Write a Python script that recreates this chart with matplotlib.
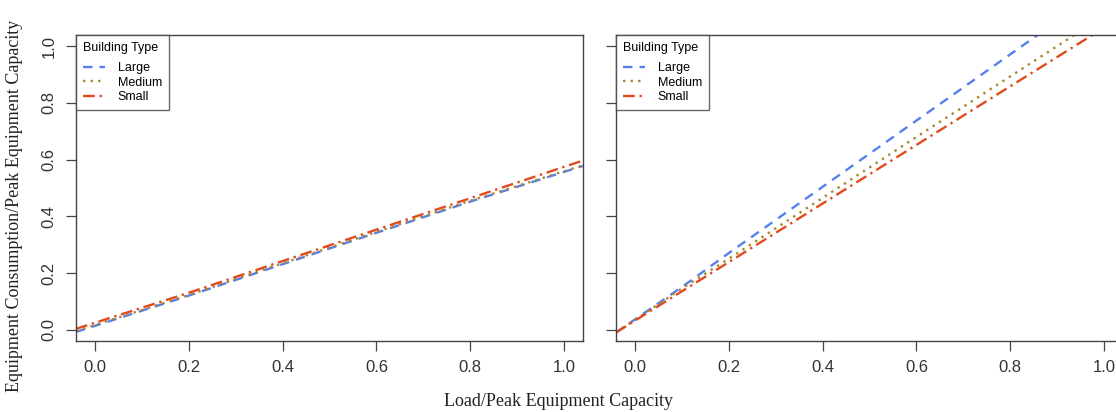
import numpy as np
import matplotlib.pyplot as plt

# left panel
x_left = [-0.04, 0.2, 0.4, 0.6, 0.8, 1.04]
left_large = [-0.008, 0.120, 0.231, 0.342, 0.452, 0.578]
left_medium = [-0.005, 0.122, 0.234, 0.345, 0.455, 0.580]
left_small = [0.003, 0.130, 0.242, 0.353, 0.464, 0.597]

# right panel
x_right = [-0.04, 0.1, 0.2, 0.4, 0.6, 0.8, 1.0]
right_large = [-0.01, 0.150, 0.270, 0.504, 0.738, 0.972, 1.206]
right_medium = [-0.01, 0.145, 0.250, 0.465, 0.680, 0.894, 1.108]
right_small = [-0.01, 0.135, 0.238, 0.445, 0.652, 0.859, 1.066]

labels = ["Large", "Medium", "Small"]
colors = ["#5580ee", "#a8862a", "#e24a1c"]
styles = [(0, (4, 3)), (0, (1, 2.2)), (0, (5, 2, 1, 2))]
ticks = [0.0, 0.2, 0.4, 0.6, 0.8, 1.0]

plt.rcParams['font.family'] = ['Liberation Sans', 'DejaVu Sans']

fig = plt.figure(figsize=(11.16, 4.12), dpi=100)
W, H = 1116.0, 412.0
ax1 = fig.add_axes([76 / W, (H - 341) / H, 507 / W, 306 / H])
ax2 = fig.add_axes([616 / W, (H - 341) / H, 507 / W, 306 / H])

panels = [(ax1, x_left, [left_large, left_medium, left_small]),
          (ax2, x_right, [right_large, right_medium, right_small])]

for ax, xs, series in panels:
    for ys, lab, c, ls in zip(series, labels, colors, styles):
        ax.plot(xs, ys, color=c, linestyle=ls, linewidth=1.7, label=lab)
    ax.set_xlim(-0.04, 1.04)
    ax.set_ylim(-0.04, 1.04)
    ax.set_xticks(ticks)
    ax.set_yticks(ticks)
    ax.set_xticklabels(["%.1f" % t for t in ticks])
    ax.set_yticklabels(["%.1f" % t for t in ticks], rotation=90, va='center')
    ax.tick_params(length=7, width=0.9, color="#444444", labelsize=12,
                   labelcolor="#333333", pad=7)
    for s in ax.spines.values():
        s.set_color("#444444")
        s.set_linewidth(1.0)
    leg = ax.legend(title="Building Type", loc="upper left", fontsize=9,
                    title_fontsize=9, frameon=True, fancybox=False,
                    borderaxespad=0, handlelength=1.8, handletextpad=1.0,
                    labelspacing=0.2, borderpad=0.55)
    leg.get_frame().set_edgecolor("#444444")
    leg.get_frame().set_linewidth(1.0)
    leg._legend_box.align = "left"
    leg._legend_box.sep = 6

ax2.set_yticklabels([])

fig.text(15 / W, 0.5, "Equipment Consumption/Peak Equipment Capacity",
         rotation=90, ha='center', va='center', fontsize=13,
         family=['Liberation Serif', 'DejaVu Serif'], color="#222222")
fig.text(558 / W, 1 - 401 / H, "Load/Peak Equipment Capacity",
         ha='center', va='center', fontsize=13,
         family=['Liberation Serif', 'DejaVu Serif'], color="#222222")

fig.savefig("out.png", dpi=100)
